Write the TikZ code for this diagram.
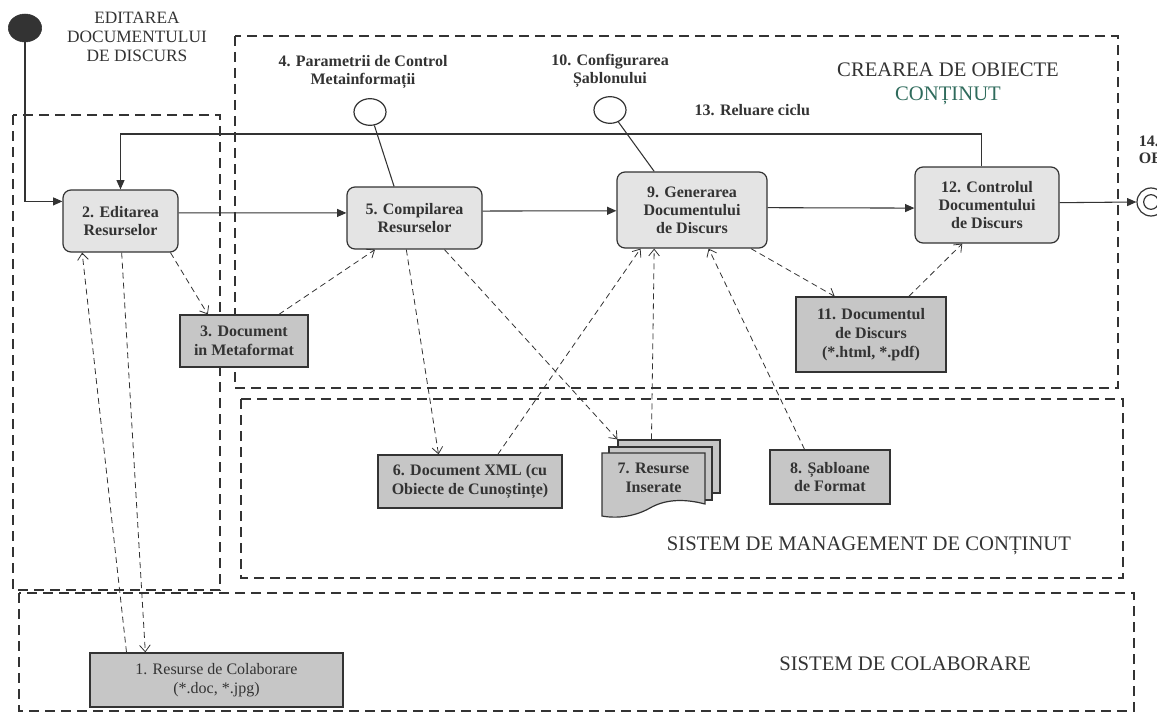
\documentclass[tikz,border=0pt]{standalone}
\usepackage{fontspec}
\setmainfont{Liberation Serif}
\usetikzlibrary{arrows.meta,shapes.geometric,calc}

\definecolor{ink}{HTML}{333333}
\definecolor{taskfill}{HTML}{E4E4E4}
\definecolor{docfill}{HTML}{C6C6C6}
\definecolor{tealink}{HTML}{2F6B5C}

\tikzset{
  region/.style={draw=ink, line width=1.2pt, dash pattern=on 7.5pt off 4.5pt},
  task/.style={draw=ink, line width=0.9pt, rounded corners=6pt, fill=taskfill,
    inner sep=0pt, align=center, text=ink,
    font=\bfseries\fontsize{12}{13.5}\selectfont},
  artifact/.style={draw=ink, line width=0.9pt, fill=docfill,
    inner sep=0pt, align=center, text=ink,
    font=\bfseries\fontsize{12}{14}\selectfont},
  sheet/.style={draw=ink, line width=0.9pt, fill=docfill},
  flow/.style={draw=ink, line width=0.8pt, -{Triangle[length=7pt,width=6pt]}},
  assoc/.style={draw=ink, line width=0.8pt},
  dep/.style={draw=ink, line width=0.6pt, dash pattern=on 4.5pt off 3pt,
    -{Straight Barb[length=5pt,width=8pt]}},
  note/.style={align=center, text=ink, font=\bfseries\fontsize{12}{14}\selectfont},
  heading/.style={align=center, text=ink, font=\fontsize{15.5}{17.5}\selectfont},
  event/.style={ellipse, draw=ink, line width=0.9pt, fill=white, inner sep=0pt,
    minimum width=24pt, minimum height=20pt},
}

\begin{document}
\begin{tikzpicture}[x=0.75pt,y=-0.75pt]
\useasboundingbox (0,0) rectangle (1157,717);
\clip (0,0) rectangle (1157,717);

% swimlane regions
\draw[region] (13,115) rectangle (220,590);
\draw[region] (235,36) rectangle (1118,388);
\draw[region] (241,399) rectangle (1123,578);
\draw[region] (19,593) rectangle (1134,711);

% region headings
\node[align=center, text=ink, font=\fontsize{13}{14}\selectfont] (hEdit) at (137,37)
  {EDITAREA\\DOCUMENTULUI\\DE DISCURS};
\node[heading] (hCreate) at (948,84) {CREAREA DE OBIECTE\\\textcolor{tealink}{CONȚINUT}};
\node[heading] (hCms) at (869,546) {SISTEM DE MANAGEMENT DE CONȚINUT};
\node[heading] (hCol) at (905,664) {SISTEM DE COLABORARE};

% start and end states
\node[ellipse, fill=ink, draw=ink, inner sep=0pt, minimum width=25pt, minimum height=21pt] (start) at (25,28) {};
\node[circle, draw=ink, line width=0.9pt, fill=white, inner sep=0pt, minimum size=21pt] (final) at (1151,202) {};
\node[circle, draw=ink, line width=0.9pt, inner sep=0pt, minimum size=11pt] (finalin) at (final.center) {};
\node[note, anchor=north west, align=left, inner sep=2pt, font=\bfseries\fontsize{12}{12.5}\selectfont] (hEnd) at (1136,133) {14.\\OB};

% activities
\node[task, minimum width=86.25pt, minimum height=46.5pt] (b2) at (120.5,221) {2. Editarea\\Resurselor};
\node[task, minimum width=101.25pt, minimum height=46.5pt] (b5) at (414.5,218) {5. Compilarea\\Resurselor};
\node[task, minimum width=112.5pt, minimum height=57pt] (b9) at (692,210) {9. Generarea\\Documentului\\de Discurs};
\node[task, minimum width=108pt, minimum height=57pt] (b12) at (987,205) {12. Controlul\\Documentului\\de Discurs};

% artefacts
\node[artifact, minimum width=96pt, minimum height=39pt] (b3) at (244,341) {3. Document\\in Metaformat};
\node[artifact, minimum width=112.5pt, minimum height=56.25pt] (b11) at (871,334.5) {11. Documentul\\de Discurs\\(*.html, *.pdf)};
\node[artifact, minimum width=138pt, minimum height=39.75pt] (b6) at (470,481.5) {6. Document XML (cu\\Obiecte de Cunoștințe)};
\node[artifact, minimum width=90pt, minimum height=40.5pt] (b8) at (830,477) {8. Șabloane\\de Format};
\node[artifact, minimum width=189.75pt, minimum height=40.5pt, font=\fontsize{12}{14}\selectfont] (b1) at (216.5,680) {1. Resurse de Colaborare\\(*.doc, *.jpg)};

% stacked documents: inserted resources
\node[sheet, inner sep=0pt, minimum width=76.5pt, minimum height=39.75pt] (s7c) at (669,466.5) {};
\node[sheet, inner sep=0pt, minimum width=77.25pt, minimum height=39.75pt] (s7b) at (660.5,473.5) {};
\draw[sheet] (602,453) -- (705,453) -- (705,504)
  .. controls (682,498) and (664,500) .. (650,508)
  .. controls (636,516) and (618,519) .. (602,516) -- cycle;
\node[note, minimum width=77.25pt, minimum height=42pt, inner sep=0pt] (s7) at (653.5,478) {7. Resurse\\Inserate};

% parameter events
\node[event] (c4) at (370,112) {};
\node[event] (c10) at (610,110) {};
\node[note] (l4) at (363,72) {4. Parametrii de Control\\Metainformații};
\node[note] (l10) at (610,71) {10. Configurarea\\Șablonului};
\node[note, anchor=west] (l13) at (690,110) {13. Reluare ciclu};

% control flow
\draw[flow] (start.south) |- ($(b2.north west)!0.19!(b2.south west)$);
\draw[flow] ($(b2.north east)!0.37!(b2.south east)$) -- ($(b5.north west)!0.42!(b5.south west)$);
\draw[flow] ($(b5.north east)!0.39!(b5.south east)$) -- ($(b9.north west)!0.51!(b9.south west)$);
\draw[flow] ($(b9.north east)!0.47!(b9.south east)$) -- ($(b12.north west)!0.54!(b12.south west)$);
\draw[flow] ($(b12.north east)!0.47!(b12.south east)$) -- (final.west);
\coordinate (loopy) at (500,134);
\draw[flow] ($(b12.north west)!0.46!(b12.north east)$) |- (loopy) -| (b2.north);

% event associations
\draw[assoc] (c4.-72) -- ($(b5.north west)!0.35!(b5.north east)$);
\draw[assoc] (c10.-55) -- ($(b9.north west)!0.25!(b9.north east)$);

% object flows
\draw[dep] ($(b1.north west)!0.146!(b1.north east)$) -- ($(b2.south west)!0.17!(b2.south east)$);
\draw[dep] ($(b2.south west)!0.51!(b2.south east)$) -- ($(b1.north west)!0.22!(b1.north east)$);
\draw[dep] ($(b2.south west)!0.93!(b2.south east)$) -- ($(b3.north west)!0.22!(b3.north east)$);
\draw[dep] ($(b3.north west)!0.77!(b3.north east)$) -- ($(b5.south west)!0.21!(b5.south east)$);
\draw[dep] ($(b5.south west)!0.44!(b5.south east)$) -- ($(b6.north west)!0.33!(b6.north east)$);
\draw[dep] ($(b5.south west)!0.72!(b5.south east)$) -- (s7c.north west);
\draw[dep] ($(b6.north west)!0.65!(b6.north east)$) -- ($(b9.south west)!0.16!(b9.south east)$);
\draw[dep] ($(s7c.north west)!0.33!(s7c.north east)$) -- ($(b9.south west)!0.25!(b9.south east)$);
\draw[dep] ($(b8.north west)!0.29!(b8.north east)$) -- ($(b9.south west)!0.61!(b9.south east)$);
\draw[dep] ($(b9.south west)!0.89!(b9.south east)$) -- ($(b11.north west)!0.26!(b11.north east)$);
\draw[dep] ($(b11.north west)!0.75!(b11.north east)$) -- ($(b12.south west)!0.33!(b12.south east)$);
\end{tikzpicture}
\end{document}
